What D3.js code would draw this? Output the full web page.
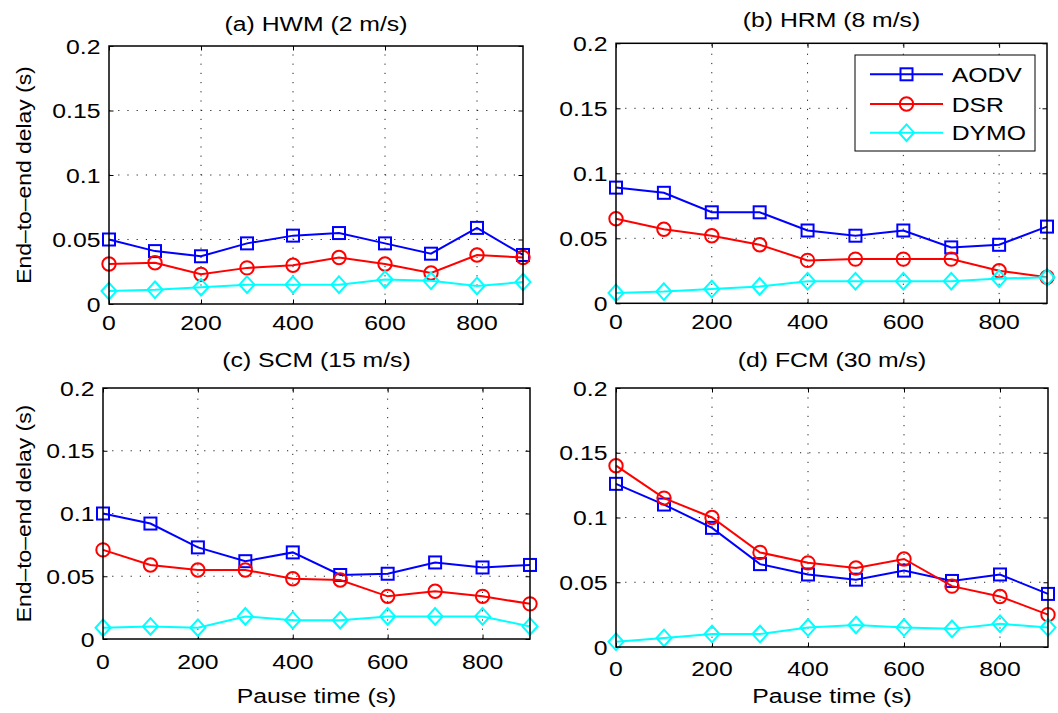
<!DOCTYPE html>
<html>
<head>
<meta charset="utf-8">
<script src="https://cdn.jsdelivr.net/npm/d3@7"></script>
<style>
  html, body { margin: 0; padding: 0; background: #fff; }
  svg { display: block; }
  text { font-family: "Liberation Sans", Arial, Helvetica, sans-serif; fill: #000; }
</style>
</head>
<body>
<svg id="chart" width="1058" height="713"></svg>
<script>
// ---------- data ----------
const pauseTimes = [0, 100, 200, 300, 400, 500, 600, 700, 800, 900];
const xTickValues = [0, 200, 400, 600, 800];
const xTickLabels = ["0", "200", "400", "600", "800"];
const yTickValues = [0, 0.05, 0.1, 0.15, 0.2];
const yTickLabels = ["0", "0.05", "0.1", "0.15", "0.2"];
const seriesNames = ["AODV", "DSR", "DYMO"];
const panelTitles = ["(a) HWM (2 m/s)", "(b) HRM (8 m/s)", "(c) SCM (15 m/s)", "(d) FCM (30 m/s)"];
const yAxisLabel = "End\u2013to\u2013end delay (s)";
const xAxisLabel = "Pause time (s)";

const hwmAODV = [0.050, 0.041, 0.037, 0.047, 0.053, 0.055, 0.047, 0.039, 0.059, 0.038];
const hwmDSR  = [0.031, 0.032, 0.023, 0.028, 0.030, 0.036, 0.031, 0.024, 0.038, 0.036];
const hwmDYMO = [0.010, 0.011, 0.013, 0.015, 0.015, 0.015, 0.019, 0.018, 0.014, 0.017];

const hrmAODV = [0.089, 0.085, 0.070, 0.070, 0.056, 0.052, 0.056, 0.043, 0.045, 0.059];
const hrmDSR  = [0.065, 0.057, 0.052, 0.045, 0.033, 0.034, 0.034, 0.034, 0.025, 0.020];
const hrmDYMO = [0.008, 0.009, 0.011, 0.013, 0.017, 0.017, 0.017, 0.017, 0.019, 0.020];

const scmAODV = [0.100, 0.092, 0.073, 0.062, 0.069, 0.051, 0.052, 0.061, 0.057, 0.059];
const scmDSR  = [0.071, 0.059, 0.055, 0.055, 0.048, 0.047, 0.034, 0.038, 0.034, 0.028];
const scmDYMO = [0.009, 0.010, 0.009, 0.018, 0.015, 0.015, 0.018, 0.018, 0.018, 0.010];

const fcmAODV = [0.126, 0.110, 0.092, 0.064, 0.056, 0.052, 0.059, 0.051, 0.056, 0.041];
const fcmDSR  = [0.140, 0.115, 0.100, 0.073, 0.065, 0.061, 0.068, 0.047, 0.039, 0.025];
const fcmDYMO = [0.004, 0.007, 0.010, 0.010, 0.015, 0.017, 0.015, 0.014, 0.018, 0.015];

const panelData = [
  [hwmAODV, hwmDSR, hwmDYMO],
  [hrmAODV, hrmDSR, hrmDYMO],
  [scmAODV, scmDSR, scmDYMO],
  [fcmAODV, fcmDSR, fcmDYMO]
];

// ---------- layout / style ----------
const seriesColors = ["#0000ff", "#ff0000", "#00ffff"];
const seriesMarkers = ["square", "circle", "diamond"];
const layout = [
  { x0: 109, x1: 523,  y0: 46,   y1: 304,   titleY: 31,  tickY: 330, xlabel: false, ylabel: true },
  { x0: 616, x1: 1047, y0: 43.3, y1: 303.3, titleY: 27,  tickY: 329, xlabel: false, ylabel: false },
  { x0: 103, x1: 530,  y0: 388,  y1: 639,   titleY: 367, tickY: 669, xlabel: true,  ylabel: true },
  { x0: 616, x1: 1048, y0: 388,  y1: 647,   titleY: 367, tickY: 676, xlabel: true,  ylabel: false }
];
const FS = 21, SX = 1.18;

const svg = d3.select("#chart");

function addText(g, str, x, y, opts) {
  const o = Object.assign({ anchor: "middle", size: FS, sx: SX, rot: 0, dy: null }, opts || {});
  const t = g.append("text")
    .attr("transform", `translate(${x},${y}) rotate(${o.rot}) scale(${o.sx},1)`)
    .attr("text-anchor", o.anchor)
    .style("font-size", o.size + "px")
    .text(str);
  if (o.dy) t.attr("dy", o.dy);
  return t;
}

function drawMarker(g, type, x, y, color) {
  if (type === "square") {
    g.append("rect").attr("x", x - 6).attr("y", y - 6).attr("width", 12).attr("height", 12)
      .attr("fill", "none").attr("stroke", color).attr("stroke-width", 2);
  } else if (type === "circle") {
    g.append("circle").attr("cx", x).attr("cy", y).attr("r", 6.7)
      .attr("fill", "none").attr("stroke", color).attr("stroke-width", 2);
  } else {
    g.append("path").attr("d", `M${x},${y - 8.3}L${x + 7.5},${y}L${x},${y + 8.3}L${x - 7.5},${y}Z`)
      .attr("fill", "none").attr("stroke", color).attr("stroke-width", 2);
  }
}

layout.forEach((L, pi) => {
  const g = svg.append("g");
  const x = d3.scaleLinear().domain([0, 900]).range([L.x0, L.x1]);
  const y = d3.scaleLinear().domain([0, 0.2]).range([L.y1, L.y0]);

  // grid (dotted)
  const grid = g.append("g").attr("stroke", "#222").attr("stroke-width", 1).attr("stroke-dasharray", "1.2,8");
  xTickValues.filter(v => v > 0).forEach(v => {
    grid.append("line").attr("x1", x(v)).attr("x2", x(v)).attr("y1", L.y1).attr("y2", L.y0);
  });
  yTickValues.filter(v => v > 0 && v < 0.2).forEach(v => {
    grid.append("line").attr("x1", L.x0).attr("x2", L.x1).attr("y1", y(v)).attr("y2", y(v));
  });

  // axes via d3 (inward ticks on all sides)
  const tl = 4.5;
  g.append("g").attr("transform", `translate(0,${L.y1})`)
    .call(d3.axisBottom(x).tickValues(xTickValues).tickSize(-tl).tickFormat(""))
    .call(a => a.select(".domain").remove());
  g.append("g").attr("transform", `translate(0,${L.y0})`)
    .call(d3.axisTop(x).tickValues(xTickValues).tickSize(-tl).tickFormat(""))
    .call(a => a.select(".domain").remove());
  g.append("g").attr("transform", `translate(${L.x0},0)`)
    .call(d3.axisLeft(y).tickValues(yTickValues).tickSize(-tl).tickFormat(""))
    .call(a => a.select(".domain").remove());
  g.append("g").attr("transform", `translate(${L.x1},0)`)
    .call(d3.axisRight(y).tickValues(yTickValues).tickSize(-tl).tickFormat(""))
    .call(a => a.select(".domain").remove());
  g.selectAll(".tick line").attr("stroke", "#000").attr("stroke-width", 1);

  // tick labels
  xTickValues.forEach((v, i) => addText(g, xTickLabels[i], x(v), L.tickY, { anchor: "middle" }));
  yTickValues.forEach((v, i) => addText(g, yTickLabels[i], L.x0 - 8.5, y(v), { anchor: "end", dy: "0.36em" }));

  // series
  const line = d3.line().x((d, i) => x(pauseTimes[i])).y(d => y(d));
  panelData[pi].forEach((vals, si) => {
    g.append("path").datum(vals).attr("d", line)
      .attr("fill", "none").attr("stroke", seriesColors[si]).attr("stroke-width", 2);
    vals.forEach((v, i) => drawMarker(g, seriesMarkers[si], x(pauseTimes[i]), y(v), seriesColors[si]));
  });

  // box
  g.append("rect").attr("x", L.x0).attr("y", L.y0).attr("width", L.x1 - L.x0).attr("height", L.y1 - L.y0)
    .attr("fill", "none").attr("stroke", "#000").attr("stroke-width", 1.5);

  // title
  addText(g, panelTitles[pi], (L.x0 + L.x1) / 2, L.titleY, { anchor: "middle" });
  if (L.ylabel) addText(g, yAxisLabel, 31, (L.y0 + L.y1) / 2, { anchor: "middle", rot: -90, sx: 1.09 });
  if (L.xlabel) addText(g, xAxisLabel, (L.x0 + L.x1) / 2, 703, { anchor: "middle" });
});

// legend (in panel b)
const lg = svg.append("g");
lg.append("rect").attr("x", 855).attr("y", 55).attr("width", 180).attr("height", 96)
  .attr("fill", "#fff").attr("stroke", "#000").attr("stroke-width", 1);
const legendRowY = [74.3, 104, 132.7];
seriesNames.forEach((name, i) => {
  const yy = legendRowY[i];
  lg.append("line").attr("x1", 870).attr("x2", 943).attr("y1", yy).attr("y2", yy)
    .attr("stroke", seriesColors[i]).attr("stroke-width", 2);
  drawMarker(lg, seriesMarkers[i], 906.5, yy, seriesColors[i]);
  addText(lg, name, 951.7, yy, { anchor: "start", dy: "0.36em" });
});
</script>
</body>
</html>
